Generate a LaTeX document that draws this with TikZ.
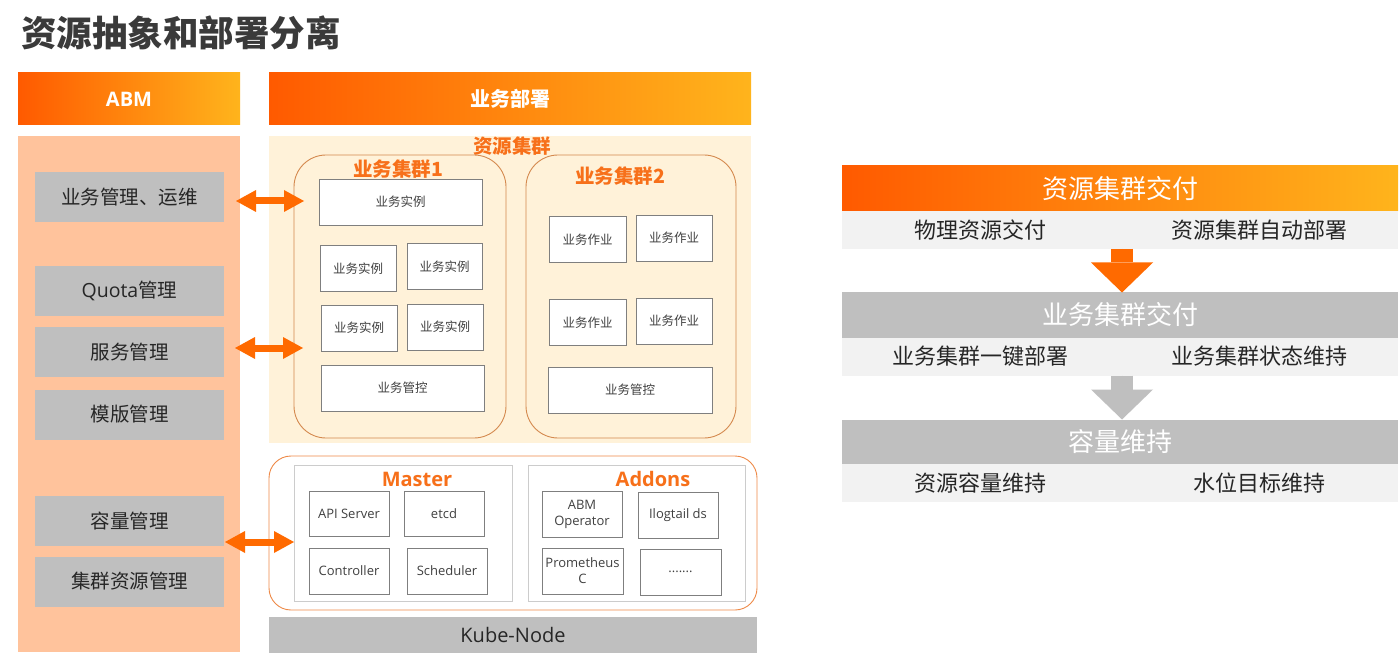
\documentclass[tikz,border=0pt]{standalone}
\usepackage{fontspec}
\setmainfont{Noto Sans CJK SC}
\newfontfamily\lat{Open Sans}
\usetikzlibrary{arrows.meta}
\definecolor{orgA}{HTML}{FF6A00}
\definecolor{orgL}{HTML}{FF5A00}
\definecolor{orgR}{HTML}{FFB41C}
\definecolor{orgT}{HTML}{F7701A}
\definecolor{peach}{HTML}{FFC39C}
\definecolor{cream}{HTML}{FFF2D9}
\definecolor{lgray}{HTML}{BFBFBF}
\definecolor{rowgray}{HTML}{F2F2F2}
\definecolor{boxgray}{HTML}{7F7F7F}
\definecolor{pangray}{HTML}{CCCCCC}
\definecolor{clbord}{HTML}{D4894E}
\definecolor{botbord}{HTML}{EE8A48}
\definecolor{txtd}{HTML}{404040}
\definecolor{txtk}{HTML}{262626}
\definecolor{titlec}{HTML}{3A3A3A}
\newcommand\myfs[1]{\fontsize{#1}{#1}\selectfont}
\begin{document}
\begin{tikzpicture}[x=1pt,y=-1pt,
  every node/.style={inner sep=0pt,outer sep=0pt},
  hdr/.style={left color=orgL,right color=orgR,text=white,font=\myfs{20}\bfseries},
  lbox/.style={fill=lgray,minimum width=189pt,minimum height=50pt,font=\myfs{19.5},text=txtk},
  wbox/.style={draw=boxgray,line width=0.8pt,fill=white,font=\myfs{12.5},text=txtd,align=center},
  clus/.style={draw=clbord,line width=0.9pt,rounded corners=32pt},
  clab/.style={text=orgT,font=\myfs{19.5}\bfseries},
  panel/.style={draw=pangray,line width=0.8pt,fill=white},
  fatarrow/.style={draw=orgA,line width=7pt,{Triangle[width=22pt,length=20pt,line width=0pt]}-{Triangle[width=22pt,length=20pt,line width=0pt]}},
  rhead/.style={minimum width=556pt,minimum height=45pt,font=\myfs{26}},
  rrow/.style={fill=rowgray,minimum width=556pt,minimum height=38pt},
  rtxt/.style={font=\myfs{22},text=txtk},
  downarrow/.style={line width=22pt,-{Triangle[width=62pt,length=30pt,line width=0pt]}}
]
\useasboundingbox[fill=white] (0,0) rectangle (1400,660);

% title
\node[anchor=west,text=titlec,font=\myfs{35.5}\bfseries] (title) at (21,33) {资源抽象和部署分离};

% headers
\node[hdr,minimum width=222pt,minimum height=52pt] (abmh) at (129,99) {\lat\bfseries ABM};
\node[hdr,minimum width=482pt,minimum height=52pt] (deph) at (510,99) {业务部署};

% ABM body
\node[fill=peach,minimum width=222pt,minimum height=516pt] (abmb) at (129,394) {};
\node[lbox] (lb1) at (129.5,197) {业务管理、运维};
\node[lbox] (lb2) at (129.5,291) {{\lat Quota}管理};
\node[lbox] (lb3) at (129.5,352) {服务管理};
\node[lbox] (lb4) at (129.5,414.5) {模版管理};
\node[lbox] (lb5) at (129.5,521) {容量管理};
\node[lbox] (lb6) at (129.5,581.5) {集群资源管理};

% resource cluster area
\node[fill=cream,minimum width=482pt,minimum height=307pt] (res) at (510,289.5) {};
\node[clab] (resl) at (512,146) {资源集群};
\node[clus,minimum width=212pt,minimum height=283pt] (c1) at (400,296.5) {};
\node[clus,minimum width=210pt,minimum height=283pt] (c2) at (631,296.5) {};
\node[clab] (c1l) at (398,169) {业务集群1};
\node[clab] (c2l) at (620,176) {业务集群2};

\node[wbox,minimum width=163pt,minimum height=46pt] (i1) at (400.5,202) {业务实例};
\node[wbox,minimum width=76pt,minimum height=46pt] (i2) at (358,268.5) {业务实例};
\node[wbox,minimum width=75pt,minimum height=46pt] (i3) at (444.5,266.5) {业务实例};
\node[wbox,minimum width=76pt,minimum height=46pt] (i4) at (359,328) {业务实例};
\node[wbox,minimum width=76pt,minimum height=46pt] (i5) at (445,327) {业务实例};
\node[wbox,minimum width=163pt,minimum height=46pt] (g1) at (402.5,388) {业务管控};

\node[wbox,minimum width=77pt,minimum height=46pt] (j1) at (587.5,239.5) {业务作业};
\node[wbox,minimum width=76pt,minimum height=46pt] (j2) at (674,238) {业务作业};
\node[wbox,minimum width=77pt,minimum height=46pt] (j3) at (587.5,322.5) {业务作业};
\node[wbox,minimum width=76pt,minimum height=46pt] (j4) at (674,321) {业务作业};
\node[wbox,minimum width=164pt,minimum height=46pt] (g2) at (630,390) {业务管控};

% bottom section
\node[draw=botbord,line width=0.9pt,rounded corners=22pt,fill=white,minimum width=488pt,minimum height=154pt] (bot) at (513,533) {};
\node[panel,minimum width=218pt,minimum height=136pt] (master) at (403,533) {};
\node[panel,minimum width=217pt,minimum height=136pt] (addons) at (636.5,533) {};
\node[clab,font=\myfs{20}\lat\bfseries] (ml) at (417,479) {Master};
\node[clab,font=\myfs{20}\lat\bfseries] (al) at (653,479) {Addons};

\node[wbox,font=\myfs{13}\lat,minimum width=80pt,minimum height=45pt] (m1) at (349,513.5) {API Server};
\node[wbox,font=\myfs{13}\lat,minimum width=80pt,minimum height=45pt] (m2) at (444,513.5) {etcd};
\node[wbox,font=\myfs{13}\lat,minimum width=80pt,minimum height=46pt] (m3) at (349,571) {Controller};
\node[wbox,font=\myfs{13}\lat,minimum width=80pt,minimum height=46pt] (m4) at (447,571) {Scheduler};
\node[wbox,font=\fontsize{13}{16}\selectfont\lat,minimum width=80pt,minimum height=46pt] (a1) at (582,514) {ABM\\Operator};
\node[wbox,font=\myfs{13}\lat,minimum width=80pt,minimum height=46pt] (a2) at (678,515) {Ilogtail ds};
\node[wbox,font=\fontsize{13}{16}\selectfont\lat,minimum width=81pt,minimum height=46pt] (a3) at (582.5,571) {Prometheus\\C};
\node[wbox,font=\myfs{13}\lat,minimum width=81pt,minimum height=46pt] (a4) at (680.5,572) {.......};

\node[fill=lgray,minimum width=488pt,minimum height=36pt,font=\myfs{20}\lat,text=txtk] (kube) at (513,635) {Kube-Node};

% double arrows
\coordinate (p1a) at (236,201);
\coordinate (p1b) at (304,201);
\coordinate (p2a) at (235,348);
\coordinate (p2b) at (303,348);
\coordinate (p3a) at (225,542);
\coordinate (p3b) at (294,542);
\draw[fatarrow] (p1a) -- (p1b);
\draw[fatarrow] (p2a) -- (p2b);
\draw[fatarrow] (p3a) -- (p3b);

% right flow
\node[rhead,left color=orgL,right color=orgR,text=white] (rh1) at (1120,188.5) {资源集群交付};
\node[rrow] (rs1) at (1120,230) {};
\node[rtxt] (t11) at (980.5,230) {物理资源交付};
\node[rtxt] (t12) at (1259,230) {资源集群自动部署};

\node[rhead,fill=lgray,text=white] (rh2) at (1120,315) {业务集群交付};
\node[rrow] (rs2) at (1120,356.5) {};
\node[rtxt] (t21) at (980.5,356.5) {业务集群一键部署};
\node[rtxt] (t22) at (1259.5,356.5) {业务集群状态维持};

\node[rhead,fill=lgray,text=white] (rh3) at (1120,442) {容量维持};
\node[rrow] (rs3) at (1120,483) {};
\node[rtxt] (t31) at (980.5,483) {资源容量维持};
\node[rtxt] (t32) at (1259.5,483) {水位目标维持};

\coordinate (ax) at (1122,0);
\draw[downarrow,draw=orgA,fill=orgA] (rs1.south -| ax) -- (rh2.north -| ax);
\draw[downarrow,draw=lgray,fill=lgray] (rs2.south -| ax) -- (rh3.north -| ax);
\end{tikzpicture}
\end{document}
